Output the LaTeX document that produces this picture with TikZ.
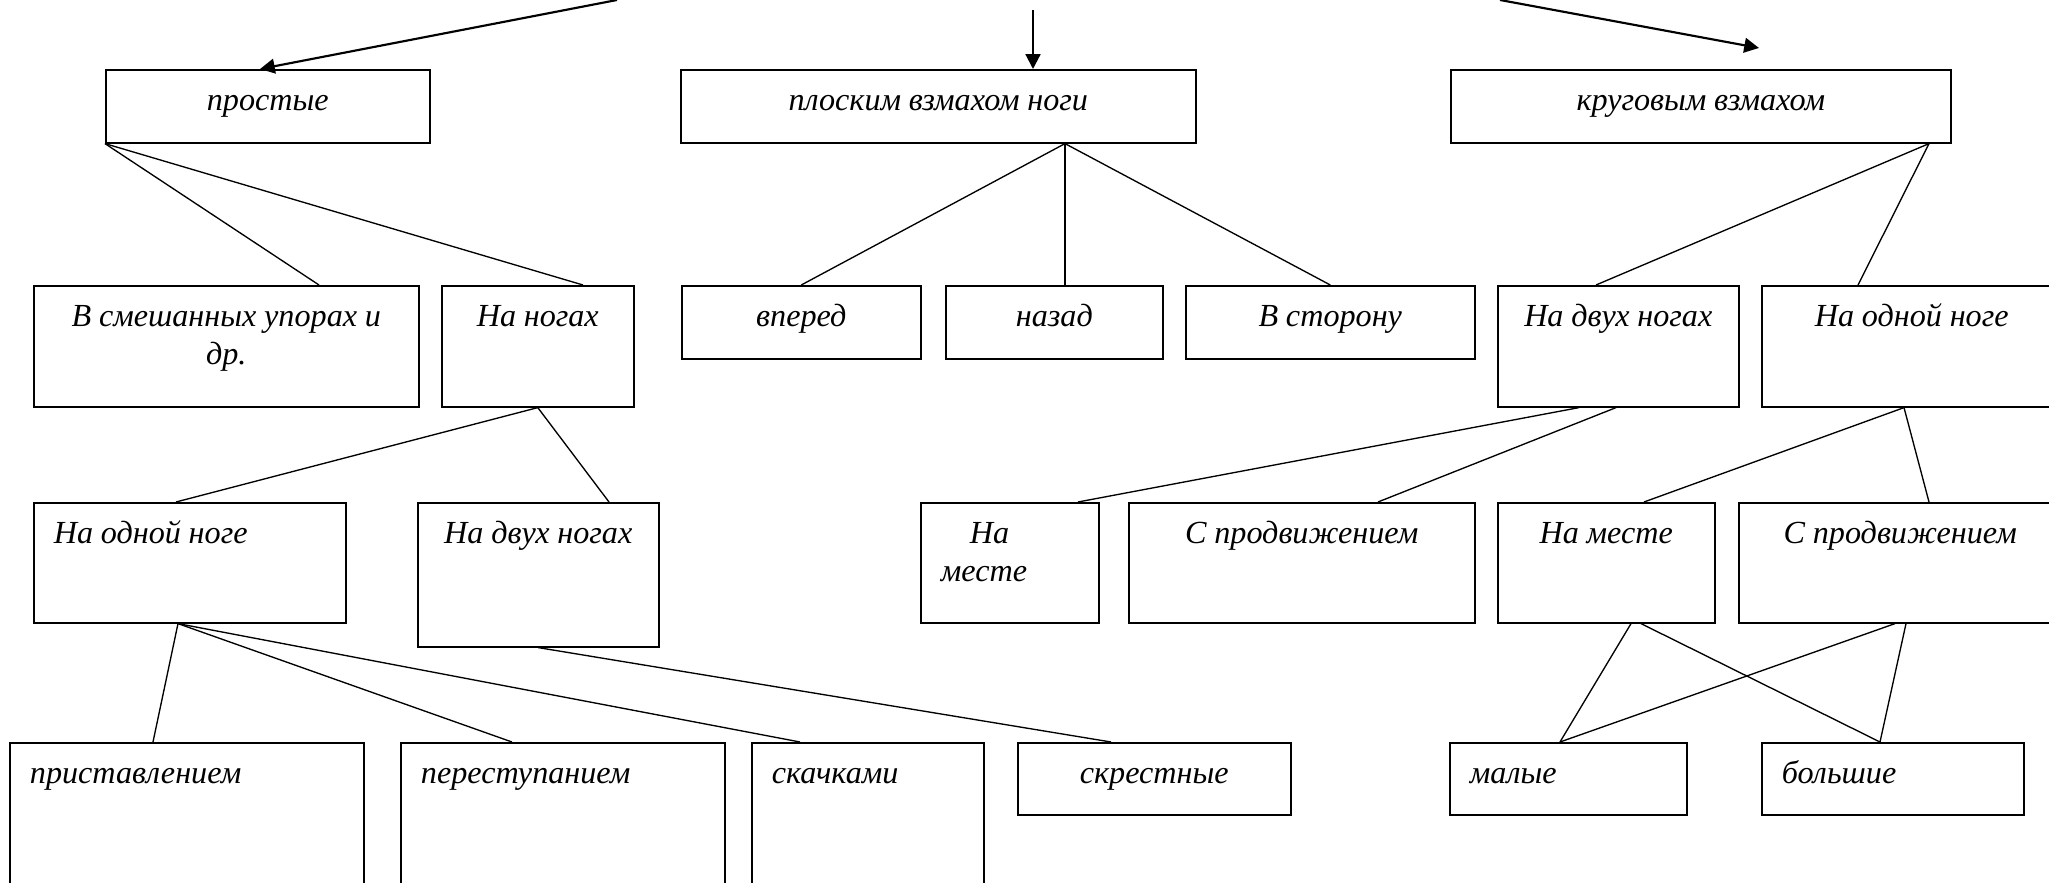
\documentclass[tikz,border=0pt]{standalone}
\usepackage{fontspec}
\setmainfont{Liberation Serif}
\usetikzlibrary{calc,arrows.meta}
\newcommand{\unitpx}{0.0131cm}
\tikzset{
  blok/.style={draw, line width=0.6pt, anchor=north west, inner xsep=7.5pt, inner ysep=5pt,
    text height=10pt, font=\fontsize{12}{14.2}\selectfont\itshape,
    execute at begin node={\spaceskip=0.24em\relax}},
  razmer/.style 2 args={text width=#1*\unitpx-15pt, text depth=#2*\unitpx-20pt},
  liniya/.style={line width=0.5pt},
  strelka/.style={line width=0.8pt, -{Triangle[length=5.5pt,width=5.5pt]}}
}
\begin{document}
\begin{tikzpicture}[x=0.0131cm, y=-0.0131cm]
  \useasboundingbox (0,0) rectangle (2049,883);
  %% primer nivel
  \node[blok, razmer={324}{73}, align=center] (prostye) at (105,69) {простые};
  \node[blok, razmer={515}{73}, align=center] (ploskim) at (680,69) {плоским взмахом ноги};
  \node[blok, razmer={500}{73}, align=center] (krugovym) at (1450,69) {круговым взмахом};
  %% segundo nivel
  \node[blok, razmer={385}{121}, align=center] (smeshan) at (33,285) {В смешанных упорах и\\др.};
  \node[blok, razmer={192}{121}, align=center] (nanogah) at (441,285) {На ногах};
  \node[blok, razmer={239}{73}, align=center] (vpered) at (681,285) {вперед};
  \node[blok, razmer={217}{73}, align=center] (nazad) at (945,285) {назад};
  \node[blok, razmer={289}{73}, align=center] (storonu) at (1185,285) {В сторону};
  \node[blok, razmer={241}{121}, align=center] (dvuh2) at (1497,285) {На двух ногах};
  \node[blok, razmer={300}{121}, align=center] (odnoj2) at (1761,285) {На одной ноге};
  %% tercer nivel
  \node[blok, razmer={312}{120}, align=left] (odnoj3) at (33,502) {На одной ноге};
  \node[blok, razmer={241}{144}, align=center] (dvuh3) at (417,502) {На двух ногах};
  \node[blok, razmer={178}{120}, align=left] (mestemid) at (920,502) {\hspace*{0.38cm}На\\месте};
  \node[blok, razmer={346}{120}, align=center] (prodvmid) at (1128,502) {С продвижением};
  \node[blok, razmer={217}{120}, align=center] (mesteR) at (1497,502) {На месте};
  \node[blok, razmer={323}{120}, align=center] (prodvR) at (1738,502) {С продвижением};
  %% cuarto nivel
  \node[blok, razmer={354}{200}, align=left] (pristav) at (9,742) {приставлением};
  \node[blok, razmer={324}{200}, align=left] (perestup) at (400,742) {переступанием};
  \node[blok, razmer={232}{200}, align=left] (skachkami) at (751,742) {скачками};
  \node[blok, razmer={273}{72}, align=center] (skrest) at (1017,742) {скрестные};
  \node[blok, razmer={237}{72}, align=left] (malye) at (1449,742) {малые};
  \node[blok, razmer={262}{72}, align=left] (bolshie) at (1761,742) {большие};

  %% flechas de arriba
  \coordinate (verh1) at (617,0);
  \coordinate (verh2) at (1033,10);
  \coordinate (verh3) at (1500,0);
  \coordinate (konec3) at (1759,48);
  \draw[strelka] (verh1) -- ($(prostye.north west)+(155,0)$);
  \draw[strelka] (verh2) -- ($(ploskim.north west)+(353,0)$);
  \draw[strelka] (verh3) -- (konec3);

  %% lineas
  \draw[liniya] (prostye.south west) -- ($(smeshan.north west)+(286,0)$);
  \draw[liniya] (prostye.south west) -- ($(nanogah.north west)+(142,0)$);
  \draw[liniya] ($(ploskim.south west)+(385,0)$) -- (vpered.north);
  \draw[liniya] ($(ploskim.south west)+(385,0)$) -- ($(nazad.north west)+(120,0)$);
  \draw[liniya] ($(ploskim.south west)+(385,0)$) -- (storonu.north);
  \draw[liniya] ($(krugovym.south west)+(479,0)$) -- ($(dvuh2.north west)+(99,0)$);
  \draw[liniya] ($(krugovym.south west)+(479,0)$) -- ($(odnoj2.north west)+(97,0)$);
  \draw[liniya] (nanogah.south) -- ($(odnoj3.north west)+(143,0)$);
  \draw[liniya] (nanogah.south) -- ($(dvuh3.north west)+(192,0)$);
  \draw[liniya] ($(dvuh2.south west)+(82,0)$) -- ($(mestemid.north west)+(158,0)$);
  \draw[liniya] ($(dvuh2.south west)+(119,0)$) -- ($(prodvmid.north west)+(250,0)$);
  \draw[liniya] ($(odnoj2.south west)+(143,0)$) -- ($(mesteR.north west)+(147,0)$);
  \draw[liniya] ($(odnoj2.south west)+(143,0)$) -- ($(prodvR.north west)+(191,0)$);
  \draw[liniya] ($(odnoj3.south west)+(145,0)$) -- ($(pristav.north west)+(144,0)$);
  \draw[liniya] ($(odnoj3.south west)+(145,0)$) -- ($(perestup.north west)+(112,0)$);
  \draw[liniya] ($(odnoj3.south west)+(145,0)$) -- ($(skachkami.north west)+(49,0)$);
  \draw[liniya] (dvuh3.south) -- ($(skrest.north west)+(94,0)$);
  \draw[liniya] ($(mesteR.south west)+(134,0)$) -- ($(malye.north west)+(111,0)$);
  \draw[liniya] ($(mesteR.south west)+(144,0)$) -- ($(bolshie.north west)+(119,0)$);
  \draw[liniya] ($(prodvR.south west)+(157,0)$) -- ($(malye.north west)+(111,0)$);
  \draw[liniya] ($(prodvR.south west)+(168,0)$) -- ($(bolshie.north west)+(119,0)$);
\end{tikzpicture}
\end{document}
